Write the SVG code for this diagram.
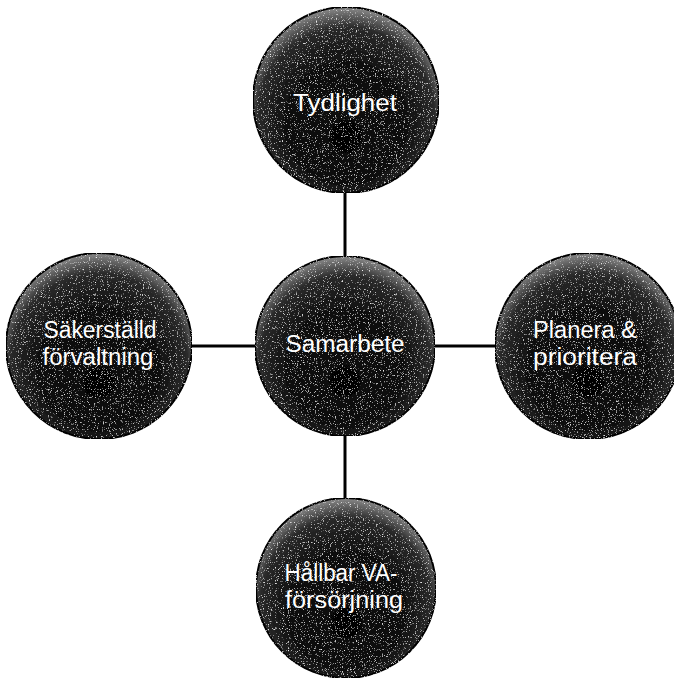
<svg xmlns="http://www.w3.org/2000/svg" width="674" height="678" viewBox="0 0 674 678">
<style>
.t{font-family:"Liberation Sans","Open Sans",sans-serif;font-size:23px;fill:#ffffff;text-anchor:middle}
.c{fill:url(#g);filter:url(#grain);stroke:#050505;stroke-width:2}
.l{stroke:#000;stroke-width:3;fill:none}
</style>
<defs>
<radialGradient id="g" cx="50%" cy="56%" r="56%" fx="50%" fy="72%">
<stop offset="0" stop-color="#030303"/>
<stop offset="0.6" stop-color="#111"/>
<stop offset="0.85" stop-color="#2a2a2a"/>
<stop offset="1" stop-color="#8a8a8a"/>
</radialGradient>
<filter id="grain" x="0" y="0" width="100%" height="100%">
<feTurbulence type="fractalNoise" baseFrequency="0.85" numOctaves="2" seed="4" result="n"/>
<feColorMatrix in="n" type="matrix" values="0 0 0 0 1 0 0 0 0 1 0 0 0 0 1 0 0 0 3.5 -2.15" result="speck"/>
<feComposite in="speck" in2="SourceGraphic" operator="in" result="s2"/>
<feMerge><feMergeNode in="SourceGraphic"/><feMergeNode in="s2"/></feMerge>
</filter>
</defs>
<g id="connectors">
<line class="l" x1="345" y1="190" x2="345" y2="260"/>
<line class="l" x1="345" y1="430" x2="345" y2="502"/>
<line class="l" x1="188" y1="346" x2="260" y2="346"/>
<line class="l" x1="430" y1="346" x2="502" y2="346"/>
</g>
<g id="n-tydlighet">
<circle class="c" cx="346" cy="100" r="93"/>
<text class="t" x="345" y="111" textLength="104" lengthAdjust="spacingAndGlyphs">Tydlighet</text>
</g>
<g id="n-samarbete">
<circle class="c" cx="345" cy="346" r="90"/>
<text class="t" x="345" y="352" textLength="119" lengthAdjust="spacingAndGlyphs">Samarbete</text>
</g>
<g id="n-sakerstalld">
<circle class="c" cx="99" cy="346" r="93"/>
<text class="t" x="100" y="338" textLength="113" lengthAdjust="spacingAndGlyphs">Säkerställd</text>
<text class="t" x="98" y="365" textLength="111" lengthAdjust="spacingAndGlyphs">förvaltning</text>
</g>
<g id="n-planera">
<circle class="c" cx="588" cy="346" r="93"/>
<text class="t" x="585" y="338" textLength="104" lengthAdjust="spacingAndGlyphs">Planera &amp;</text>
<text class="t" x="585" y="365" textLength="104" lengthAdjust="spacingAndGlyphs">prioritera</text>
</g>
<g id="n-hallbar">
<circle class="c" cx="346" cy="588" r="90"/>
<text class="t" x="341" y="581" textLength="113" lengthAdjust="spacingAndGlyphs">Hållbar VA-</text>
<text class="t" x="344" y="608" textLength="118" lengthAdjust="spacingAndGlyphs">försörjning</text>
</g>
</svg>
